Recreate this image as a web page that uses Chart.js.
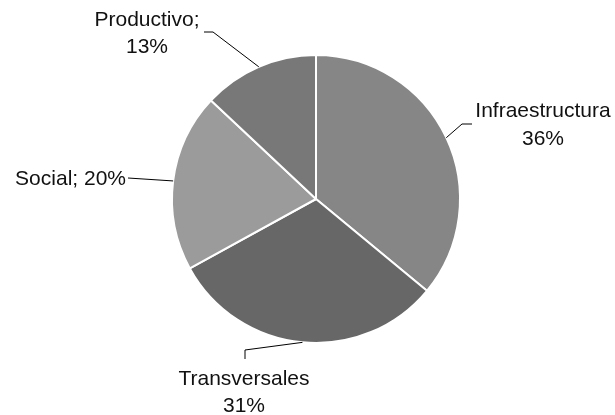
<!DOCTYPE html>
<html>
<head>
<meta charset="utf-8">
<script src="https://cdn.jsdelivr.net/npm/chart.js@4"></script>
<style>
html,body{margin:0;padding:0;background:#fff;}
#wrap{width:615px;height:415px;position:relative;}
</style>
</head>
<body>
<div id="wrap"><canvas id="c" width="615" height="415"></canvas></div>
<script>
const categories = ["Infraestructura", "Transversales", "Social", "Productivo"];
const values = [36, 31, 20, 13];
const labelTexts = [["Infraestructura", "36%"], ["Transversales", "31%"], ["Social; 20%"], ["Productivo;", "13%"]];
const colors = ["#868686", "#676767", "#9b9b9b", "#787878"];

// label layout: offsets relative to pie center (pixels)
const labelLayout = [
  {cx: 227, base: [-82, -54], align: "center", leader: [[146, -75], [156, -75]]},
  {cx: -72, base: [186, 213], align: "center", leader: [[-71, 151], [-71, 160]]},
  {cx: -190, base: [-14], align: "right", leader: [[-188, -21]]},
  {cx: -169, base: [-173, -146], align: "center", leader: [[-103, -167], [-112, -167]]}
];

const labelPlugin = {
  id: "pieLabels",
  afterDatasetsDraw(chart) {
    const ctx = chart.ctx;
    const meta = chart.getDatasetMeta(0);
    meta.data.forEach((arc, i) => {
      const p = arc.getProps(["x", "y", "startAngle", "endAngle", "outerRadius"], true);
      const mid = (p.startAngle + p.endAngle) / 2;
      const ex = p.x + Math.cos(mid) * p.outerRadius;
      const ey = p.y + Math.sin(mid) * p.outerRadius;
      const L = labelLayout[i];
      ctx.save();
      ctx.strokeStyle = "#000";
      ctx.lineWidth = 1;
      ctx.beginPath();
      ctx.moveTo(ex, ey);
      L.leader.forEach(pt => ctx.lineTo(p.x + pt[0], p.y + pt[1]));
      ctx.stroke();
      ctx.fillStyle = "#111";
      ctx.font = "21px 'Liberation Sans', Arial, sans-serif";
      ctx.textAlign = L.align;
      ctx.textBaseline = "alphabetic";
      labelTexts[i].forEach((t, k) => ctx.fillText(t, p.x + L.cx, p.y + L.base[k]));
      ctx.restore();
    });
  }
};

new Chart(document.getElementById("c"), {
  type: "pie",
  data: {
    labels: categories,
    datasets: [{
      data: values,
      backgroundColor: colors,
      borderColor: "#ffffff",
      borderWidth: 2
    }]
  },
  options: {
    responsive: false,
    animation: false,
    layout: {padding: {top: 54, bottom: 71, left: 17, right: 0}},
    plugins: {legend: {display: false}, tooltip: {enabled: false}}
  },
  plugins: [labelPlugin]
});
</script>
</body>
</html>
